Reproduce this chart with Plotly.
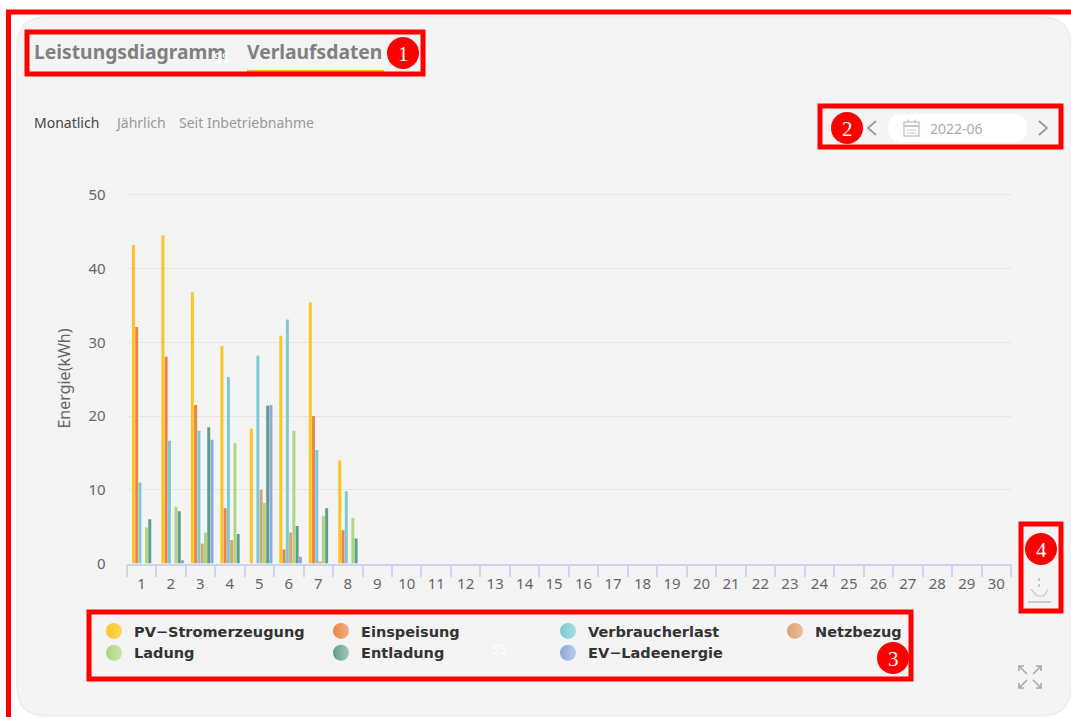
import plotly.graph_objects as go

W, H = 1071, 717
days = [str(d) for d in range(1, 31)]
series_names = ["PV−Stromerzeugung", "Einspeisung", "Verbraucherlast", "Netzbezug",
                "Ladung", "Entladung", "EV−Ladeenergie"]
pv = [43.2, 44.5, 36.8, 29.5, 18.3, 30.9, 35.4, 14.0]
einspeisung = [32.1, 28.05, 21.5, 7.5, 0, 1.9, 20.0, 4.5]
verbrauch = [11.0, 16.65, 18.0, 25.3, 28.2, 33.1, 15.4, 9.8]
netzbezug = [0, 0, 2.7, 3.2, 10.0, 4.2, 0.2, 0]
ladung = [4.9, 7.7, 4.2, 16.3, 8.2, 18.0, 6.4, 6.2]
entladung = [6.0, 7.1, 18.5, 4.0, 21.4, 5.1, 7.5, 3.4]
ev = [0, 0.45, 16.8, 0, 21.5, 0.9, 0, 0]
all_values = [pv, einspeisung, verbrauch, netzbezug, ladung, entladung, ev]
colors = ["#FDC41F", "#EC8445", "#7BCAD2", "#DDA273", "#AFD57F", "#5F9E8A", "#8DA8DA"]
light = ["#FFD75E", "#F5AE7E", "#A6DEE2", "#E9BF9B", "#CBE5A8", "#A2C9BC", "#BACBEB"]
y_ticks = [0, 10, 20, 30, 40, 50]

TEXT = "Noto Sans"
def X(p): return p / W
def Y(p): return 1 - p / H

fig = go.Figure()
for i, (name, vals) in enumerate(zip(series_names, all_values)):
    fig.add_trace(go.Bar(x=days[:len(vals)], y=vals, name=name, marker_color=colors[i],
                         marker_line_width=0, width=0.1, offset=-0.322 + 0.111 * i,
                         showlegend=False, hoverinfo="x+y+name"))
for i, name in enumerate(series_names):
    fig.add_trace(go.Scatter(x=[None], y=[None], mode="markers", name=name,
                             marker=dict(size=17, color=colors[i],
                                         gradient=dict(type="horizontal", color=light[i]))))

shapes, notes = [], []

def path(d, color, width=1, fill=None, layer="above"):
    shapes.append(dict(type="path", path=d, xref="paper", yref="paper", layer=layer,
                       line=dict(color=color, width=width),
                       fillcolor=fill if fill else "rgba(0,0,0,0)"))

def P(*pts, close=False):
    s = "M" + " L".join(f"{X(a):.5f},{Y(b):.5f}" for a, b in pts)
    return s + (" Z" if close else "")

def rrect(x0, y0, x1, y1, r):
    q = lambda a, b, c, d: f"Q{X(a):.5f},{Y(b):.5f} {X(c):.5f},{Y(d):.5f}"
    return (f"M{X(x0+r):.5f},{Y(y0):.5f} L{X(x1-r):.5f},{Y(y0):.5f} " + q(x1, y0, x1, y0+r) +
            f" L{X(x1):.5f},{Y(y1-r):.5f} " + q(x1, y1, x1-r, y1) +
            f" L{X(x0+r):.5f},{Y(y1):.5f} " + q(x0, y1, x0, y1-r) +
            f" L{X(x0):.5f},{Y(y0+r):.5f} " + q(x0, y0, x0+r, y0) + " Z")

def rect(x0, y0, x1, y1, line="#FF0000", width=5, fill=None, layer="above"):
    shapes.append(dict(type="rect", xref="paper", yref="paper", layer=layer,
                       x0=X(x0), x1=X(x1), y0=Y(y0), y1=Y(y1),
                       line=dict(color=line, width=width),
                       fillcolor=fill if fill else "rgba(0,0,0,0)"))

def text(x, y, s, size, color, bold=False, anchor="left", family=TEXT):
    notes.append(dict(xref="paper", yref="paper", x=X(x), y=Y(y), text=f"<b>{s}</b>" if bold else s,
                      showarrow=False, xanchor=anchor, yanchor="middle",
                      font=dict(size=size, color=color, family=family)))

def badge(x, y, s):
    shapes.append(dict(type="circle", xref="paper", yref="paper", x0=X(x-16), x1=X(x+16),
                       y0=Y(y+16), y1=Y(y-16), fillcolor="#FF0000", line_width=0, layer="above"))
    text(x, y + 1, s, 21, "#FFFFFF", anchor="center", family="Liberation Serif")

# card
path(rrect(17, 17, 1071, 716, 30), "#EBEBF2", 1.5, "#F4F4F4", layer="below")

# tabs
text(32, 51, "Leistungsdiagramm", 19.3, "#808080", True)
text(245, 51, "Verlaufsdaten", 19.3, "#808080", True)
path(P((247, 71), (384, 71)), "#F2B705", 2)
text(222, 57, "SS", 14, "#FFFFFF", anchor="center")

text(32, 123, "Monatlich", 14, "#444444")
text(113, 123, "Jährlich", 14, "#999999")
text(177, 123, "Seit Inbetriebnahme", 14, "#999999")

# date picker
path(rrect(888, 114, 1027, 142, 14), "#FFFFFF", 0, "#FFFFFF")
text(928, 129, "2022-06", 14, "#AAAAAA")
path(P((876, 121), (868, 128), (876, 135)), "#999999", 1.8)
path(P((1039, 121), (1047, 128), (1039, 135)), "#999999", 1.8)
rect(904, 122, 919, 136, line="#C4C8D4", width=1.5)
path(P((904, 126), (919, 126)), "#C4C8D4", 2)
path(P((907, 130), (916, 130)), "#C4C8D4", 1)
path(P((907, 133), (916, 133)), "#C4C8D4", 1)
path(P((908, 119.5), (908, 123)), "#C4C8D4", 1.5)
path(P((915, 119.5), (915, 123)), "#C4C8D4", 1.5)

# download icon
path(P((1039, 578), (1039, 581)), "#BBBBBB", 1.5)
path(P((1039, 584), (1039, 587)), "#BBBBBB", 1.5)
path(P((1031, 589), (1037, 596), (1044, 596), (1048, 589)), "#C8C8C8", 1.2)
path(P((1028, 602), (1051, 602)), "#BDBDBD", 1.5)

# fullscreen icon
for (a, b, c, d) in [(1019, 666, 1027, 674), (1041, 666, 1033, 674),
                     (1019, 688, 1027, 680), (1041, 688, 1033, 680)]:
    path(P((a, b), (c, d)), "#A9A9A9", 1.6)
    path(P((a, b + (5 if d > b else -5)), (a, b), (a + (5 if c > a else -5), b)), "#A9A9A9", 1.6)

text(500, 648, "SS", 14, "#FFFFFF", anchor="center")

# annotation boxes
rect(8.5, 12, 1080, 730)
rect(27, 32, 423, 74)
rect(820, 106, 1061, 147)
rect(89, 612, 911, 679)
rect(1021, 524, 1061, 611)
badge(403, 53, "1")
badge(847, 128, "2")
badge(893, 658, "3")
badge(1041, 549, "4")

fig.update_layout(
    width=W, height=H, margin=dict(l=0, r=0, t=0, b=0, autoexpand=False), autosize=False,
    paper_bgcolor="#FFFFFF", plot_bgcolor="rgba(0,0,0,0)",
    barmode="overlay", shapes=shapes, annotations=notes,
    font=dict(family=TEXT, color="#666666"),
    xaxis=dict(domain=[X(126.7), X(1011)], type="category", categoryorder="array",
               categoryarray=days, tickmode="array", tickvals=days, ticktext=days, tickson="boundaries", range=[-0.5, 29.5],
               ticks="outside", ticklen=12, tickcolor="#CCD6EB", tickwidth=1.5,
               linecolor="#CCD6EB", linewidth=1.5, showgrid=False, tickangle=0, ticklabelstandoff=6,
               tickfont=dict(size=15, color="#666666"), fixedrange=True),
    yaxis=dict(domain=[Y(563.5), Y(193.5)], range=[0, 50.2], tickmode="array", tickvals=y_ticks,
               gridcolor="#E6E6E6", gridwidth=1, zeroline=False, ticks="", ticklen=0, ticklabelstandoff=20,
               tickfont=dict(size=15, color="#666666"), fixedrange=True,
               title=dict(text="Energie(kWh)", font=dict(size=16, color="#666666"), standoff=13)),
    legend=dict(orientation="h", x=X(94), y=Y(615), xanchor="left", yanchor="top",
                entrywidth=182, entrywidthmode="pixels", bgcolor="rgba(0,0,0,0)",
                traceorder="normal", itemclick=False, itemdoubleclick=False,
                font=dict(size=14.5, color="#333333", family="DejaVu Sans", weight="bold")),
)
fig.write_html("out.html", config=dict(displayModeBar=False),
               post_script="document.body.style.margin='0';")
